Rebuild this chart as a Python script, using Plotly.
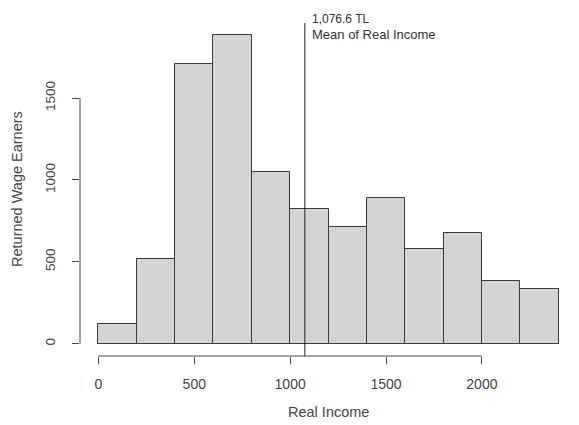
import plotly.graph_objects as go

# Data
bin_edges = [0, 200, 400, 600, 800, 1000, 1200, 1400, 1600, 1800, 2000, 2200, 2400]
counts = [122, 516, 1709, 1883, 1046, 822, 714, 889, 577, 677, 381, 332]
mean_income = 1076.6
x_ticks = [0, 500, 1000, 1500, 2000]
y_ticks = [0, 500, 1000, 1500]
x_title = "Real Income"
y_title = "Returned Wage Earners"
mean_value_label = "1,076.6 TL"
mean_name_label = "Mean of Real Income"

centers = [(a + b) / 2 for a, b in zip(bin_edges[:-1], bin_edges[1:])]
widths = [b - a for a, b in zip(bin_edges[:-1], bin_edges[1:])]

xspan = bin_edges[-1] - bin_edges[0]
xr = [bin_edges[0] - 0.04 * xspan, bin_edges[-1] + 0.04 * xspan]
ymax = max(counts)
yr = [-0.04 * ymax, 1.04 * ymax]

axis_col = "#444444"
font_fam = "Liberation Sans, Arial, sans-serif"

fig = go.Figure()
fig.add_trace(go.Bar(
    x=centers, y=counts, width=widths,
    marker=dict(color="#d3d3d3", line=dict(color="#3a3a3a", width=1)),
    hoverinfo="x+y",
))

fig.add_shape(type="line", xref="x", yref="paper", x0=mean_income, x1=mean_income,
              y0=0, y1=1, line=dict(color="#222222", width=1))
# R-style axis lines spanning first to last tick
fig.add_shape(type="line", xref="x", yref="paper", x0=min(x_ticks), x1=max(x_ticks),
              y0=0, y1=0, line=dict(color=axis_col, width=1))
fig.add_shape(type="line", xref="paper", yref="y", x0=0, x1=0,
              y0=min(y_ticks), y1=max(y_ticks), line=dict(color=axis_col, width=1))

fig.add_annotation(x=mean_income, y=1, xref="x", yref="paper", xanchor="left", yanchor="middle",
                   xshift=5, yshift=4.5, text=mean_value_label, showarrow=False,
                   font=dict(family=font_fam, size=12, color="#333333"))
fig.add_annotation(x=mean_income, y=1, xref="x", yref="paper", xanchor="left", yanchor="middle",
                   xshift=5, yshift=-11.5, text=mean_name_label, showarrow=False,
                   font=dict(family=font_fam, size=13, color="#333333"))

# Axis titles (R-style positions)
fig.add_annotation(x=0.5, y=0, xref="paper", yref="paper", xanchor="center", yanchor="middle",
                   yshift=-55.5, text=x_title, showarrow=False,
                   font=dict(family=font_fam, size=14.5, color=axis_col))
fig.add_annotation(x=0, y=0.5, xref="paper", yref="paper", xanchor="center", yanchor="middle",
                   xshift=-63.5, text=y_title, showarrow=False, textangle=-90,
                   font=dict(family=font_fam, size=14.5, color=axis_col))

# page body has an 8px margin: size/margins compensate so the plot lands where the reference has it
fig.update_layout(
    width=571, height=417,
    margin=dict(l=72, r=2, t=15, b=69),
    paper_bgcolor="white", plot_bgcolor="white",
    showlegend=False, bargap=0,
    font=dict(family=font_fam, color=axis_col, size=14),
    xaxis=dict(range=xr, tickvals=x_ticks, ticktext=[str(v) for v in x_ticks],
               ticks="outside", ticklen=7, tickcolor=axis_col, showgrid=False,
               zeroline=False, showline=False, tickfont=dict(size=14),
               ticklabelstandoff=8, automargin=False, fixedrange=True),
    yaxis=dict(range=yr, tickvals=y_ticks, ticktext=[str(v) for v in y_ticks],
               ticks="outside", ticklen=7, tickcolor=axis_col, showgrid=False,
               zeroline=False, showline=False, tickangle=-90, tickfont=dict(size=13.5),
               ticklabelstandoff=12, automargin=False, fixedrange=True),
)

fig.write_html("out.html")
